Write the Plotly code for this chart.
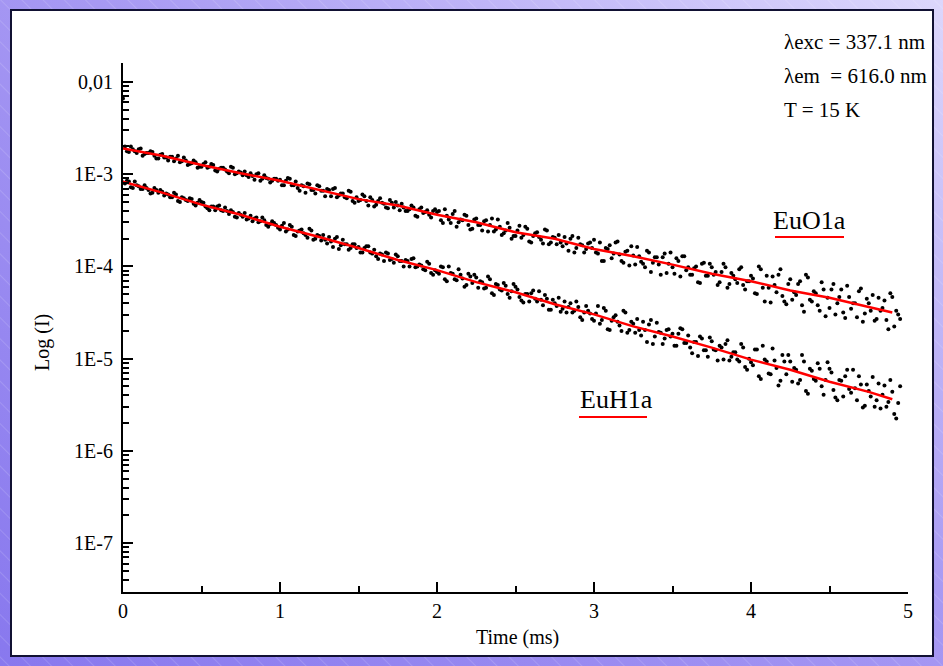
import base64
import plotly.graph_objects as go

# ---------------- data (log10 of intensity) ----------------
# two interleaved sampling grids of the decay curves
time_a_ms = [round(0.025 * i, 4) for i in range(199)]
time_b_ms = [round(0.0125 + 0.025 * j, 4) for j in range(198)]

euo1a_log_a = [
    -2.18, -2.75, -2.70, -2.75, -2.73, -2.80, -2.77, -2.75, -2.80, -2.83,
    -2.78, -2.82, -2.81, -2.86, -2.80, -2.86, -2.85, -2.89, -2.85, -2.93,
    -2.92, -2.87, -2.92, -2.90, -2.97, -2.93, -2.95, -2.99, -2.93, -2.99,
    -2.98, -2.97, -3.03, -3.02, -3.00, -3.07, -3.01, -3.05, -3.07, -3.05,
    -3.06, -3.12, -3.04, -3.12, -3.08, -3.18, -3.13, -3.10, -3.17, -3.21,
    -3.13, -3.18, -3.16, -3.24, -3.15, -3.23, -3.21, -3.26, -3.19, -3.31,
    -3.29, -3.22, -3.29, -3.25, -3.35, -3.29, -3.31, -3.36, -3.28, -3.36,
    -3.34, -3.32, -3.40, -3.38, -3.36, -3.46, -3.36, -3.41, -3.44, -3.40,
    -3.41, -3.50, -3.38, -3.49, -3.43, -3.57, -3.49, -3.44, -3.55, -3.59,
    -3.48, -3.55, -3.51, -3.62, -3.48, -3.60, -3.57, -3.64, -3.53, -3.70,
    -3.67, -3.56, -3.66, -3.59, -3.74, -3.64, -3.68, -3.75, -3.61, -3.74,
    -3.69, -3.66, -3.78, -3.75, -3.70, -3.85, -3.69, -3.77, -3.81, -3.74,
    -3.71, -3.86, -3.94, -3.80, -3.77, -3.86, -3.73, -3.94, -3.84, -3.99,
    -3.88, -3.79, -3.95, -4.01, -3.85, -3.96, -3.90, -4.09, -3.86, -3.97,
    -4.01, -3.91, -4.11, -3.89, -4.01, -4.09, -4.00, -4.18, -3.96, -4.10,
    -4.01, -4.06, -4.17, -3.97, -4.23, -4.07, -4.14, -4.03, -4.20, -4.16,
    -4.10, -4.29, -4.00, -4.23, -4.10, -4.39, -4.20, -4.09, -4.32, -4.41,
    -4.14, -4.28, -4.19, -4.42, -4.09, -4.36, -4.27, -4.42, -4.17, -4.54,
    -4.45, -4.19, -4.40, -4.25, -4.56, -4.33, -4.40, -4.55, -4.24, -4.51,
    -4.40, -4.31, -4.57, -4.48, -4.37, -4.68, -4.33, -4.48, -4.57,
]

euo1a_log_b = [
    -2.70, -2.76, -2.73, -2.77, -2.72, -2.78, -2.77, -2.76, -2.83, -2.79,
    -2.82, -2.85, -2.81, -2.83, -2.87, -2.82, -2.90, -2.88, -2.87, -2.92,
    -2.89, -2.93, -2.89, -2.96, -2.94, -2.93, -2.97, -2.92, -3.00, -2.97,
    -3.01, -3.01, -2.99, -3.06, -2.99, -3.05, -3.04, -3.09, -3.05, -3.07,
    -3.12, -3.07, -3.05, -3.12, -3.15, -3.12, -3.20, -3.11, -3.17, -3.12,
    -3.18, -3.24, -3.17, -3.16, -3.25, -3.21, -3.25, -3.18, -3.29, -3.25,
    -3.28, -3.24, -3.34, -3.28, -3.33, -3.26, -3.32, -3.37, -3.31, -3.30,
    -3.39, -3.36, -3.40, -3.34, -3.45, -3.38, -3.42, -3.39, -3.47, -3.38,
    -3.40, -3.53, -3.45, -3.53, -3.40, -3.52, -3.50, -3.45, -3.60, -3.49,
    -3.55, -3.61, -3.50, -3.55, -3.62, -3.49, -3.66, -3.61, -3.58, -3.67,
    -3.61, -3.69, -3.57, -3.73, -3.67, -3.63, -3.71, -3.60, -3.76, -3.68,
    -3.76, -3.74, -3.68, -3.83, -3.67, -3.80, -3.76, -3.85, -3.75, -3.80,
    -3.85, -3.74, -3.94, -3.81, -3.91, -3.74, -3.87, -3.96, -3.83, -3.78,
    -3.98, -3.89, -3.97, -3.83, -4.06, -3.90, -3.98, -3.90, -4.07, -3.85,
    -4.08, -3.94, -3.89, -4.04, -4.09, -4.02, -4.17, -3.97, -4.10, -3.97,
    -4.09, -4.20, -4.06, -4.01, -4.19, -4.10, -4.18, -4.01, -4.25, -4.16,
    -4.13, -4.30, -4.03, -4.38, -4.23, -4.11, -4.28, -4.03, -4.38, -4.19,
    -4.36, -4.31, -4.16, -4.49, -4.12, -4.38, -4.29, -4.48, -4.25, -4.34,
    -4.25, -4.52, -4.33, -4.50, -4.21, -4.46, -4.40, -4.27, -4.60, -4.35,
    -4.48, -4.59, -4.34, -4.45, -4.58, -4.29, -4.65, -4.52,
]

euh1a_log_a = [
    -3.09, -3.07, -3.14, -3.08, -3.13, -3.16, -3.15, -3.21, -3.15, -3.20,
    -3.19, -3.21, -3.25, -3.20, -3.29, -3.25, -3.28, -3.26, -3.32, -3.31,
    -3.30, -3.35, -3.39, -3.35, -3.35, -3.39, -3.36, -3.43, -3.41, -3.47,
    -3.44, -3.42, -3.48, -3.51, -3.47, -3.51, -3.50, -3.57, -3.51, -3.55,
    -3.60, -3.53, -3.60, -3.57, -3.67, -3.61, -3.64, -3.69, -3.61, -3.70,
    -3.67, -3.66, -3.75, -3.73, -3.70, -3.81, -3.71, -3.76, -3.80, -3.76,
    -3.79, -3.85, -3.78, -3.85, -3.82, -3.92, -3.87, -3.85, -3.93, -3.96,
    -3.89, -3.94, -3.93, -4.00, -3.91, -4.00, -3.99, -4.04, -3.97, -4.09,
    -4.06, -4.00, -4.14, -4.00, -4.08, -4.15, -4.09, -4.22, -4.08, -4.18,
    -4.12, -4.16, -4.24, -4.11, -4.29, -4.19, -4.25, -4.18, -4.30, -4.27,
    -4.22, -4.33, -4.39, -4.30, -4.29, -4.35, -4.27, -4.42, -4.35, -4.47,
    -4.40, -4.34, -4.46, -4.50, -4.40, -4.48, -4.44, -4.58, -4.43, -4.51,
    -4.59, -4.43, -4.58, -4.48, -4.69, -4.55, -4.60, -4.70, -4.50, -4.69,
    -4.62, -4.57, -4.75, -4.69, -4.63, -4.84, -4.61, -4.72, -4.78, -4.68,
    -4.73, -4.86, -4.67, -4.83, -4.75, -4.94, -4.82, -4.76, -4.91, -4.98,
    -4.81, -4.91, -4.86, -5.01, -4.80, -4.98, -4.93, -5.03, -4.88, -5.12,
    -5.04, -4.90, -5.19, -4.86, -5.03, -5.17, -5.02, -5.29, -4.96, -5.17,
    -5.03, -5.10, -5.27, -4.96, -5.35, -5.11, -5.22, -5.05, -5.30, -5.23,
    -5.11, -5.34, -5.45, -5.24, -5.19, -5.33, -5.12, -5.45, -5.28, -5.51,
    -5.35, -5.20, -5.45, -5.54, -5.29, -5.47, -5.36, -5.65, -5.30,
]

euh1a_log_b = [
    -3.10, -3.08, -3.15, -3.12, -3.16, -3.12, -3.17, -3.20, -3.17, -3.17,
    -3.23, -3.22, -3.25, -3.22, -3.30, -3.26, -3.29, -3.27, -3.34, -3.28,
    -3.31, -3.37, -3.35, -3.39, -3.34, -3.40, -3.40, -3.39, -3.46, -3.42,
    -3.46, -3.49, -3.45, -3.48, -3.52, -3.47, -3.55, -3.54, -3.53, -3.58,
    -3.56, -3.62, -3.55, -3.66, -3.62, -3.60, -3.66, -3.59, -3.71, -3.66,
    -3.72, -3.71, -3.68, -3.79, -3.68, -3.77, -3.76, -3.82, -3.76, -3.80,
    -3.85, -3.80, -3.78, -3.86, -3.89, -3.86, -3.94, -3.86, -3.92, -3.87,
    -3.94, -4.00, -3.94, -3.92, -4.01, -3.98, -4.03, -3.95, -4.07, -4.04,
    -4.08, -4.01, -4.16, -4.07, -4.14, -4.03, -4.13, -4.20, -4.11, -4.09,
    -4.23, -4.17, -4.23, -4.14, -4.31, -4.20, -4.26, -4.21, -4.34, -4.19,
    -4.25, -4.37, -4.30, -4.38, -4.26, -4.38, -4.36, -4.31, -4.47, -4.36,
    -4.43, -4.49, -4.38, -4.44, -4.50, -4.38, -4.55, -4.50, -4.48, -4.57,
    -4.51, -4.62, -4.45, -4.68, -4.59, -4.53, -4.64, -4.48, -4.72, -4.60,
    -4.72, -4.69, -4.60, -4.82, -4.58, -4.76, -4.71, -4.84, -4.69, -4.76,
    -4.86, -4.73, -4.68, -4.83, -4.88, -4.82, -4.97, -4.78, -4.91, -4.77,
    -4.90, -5.02, -4.88, -4.84, -5.02, -4.93, -5.01, -4.84, -5.09, -5.00,
    -5.07, -4.90, -5.22, -5.01, -5.16, -4.89, -5.10, -5.24, -5.03, -4.96,
    -5.25, -5.12, -5.23, -5.03, -5.38, -5.13, -5.24, -5.11, -5.39, -5.04,
    -5.15, -5.42, -5.23, -5.41, -5.12, -5.37, -5.32, -5.19, -5.53, -5.28,
    -5.41, -5.52, -5.27, -5.39, -5.52, -5.23, -5.60, -5.48,
]

fit_time_ms = [0, 0.25, 0.5, 0.75, 1.0, 1.25, 1.5, 1.75, 2.0, 2.25, 2.5,
               2.75, 3.0, 3.25, 3.5, 3.75, 4.0, 4.25, 4.5, 4.75, 4.9]
euo1a_fit_log = [-2.72, -2.80, -2.90, -2.99, -3.07, -3.17, -3.27, -3.34, -3.44, -3.52, -3.63,
                 -3.70, -3.81, -3.89, -3.98, -4.08, -4.16, -4.26, -4.34, -4.44, -4.50]
euh1a_fit_log = [-3.08, -3.20, -3.33, -3.44, -3.57, -3.68, -3.80, -3.93, -4.04, -4.17, -4.28,
                 -4.41, -4.52, -4.65, -4.76, -4.88, -5.01, -5.12, -5.25, -5.36, -5.44]

y_tick_vals = [1e-7, 1e-6, 1e-5, 1e-4, 1e-3, 1e-2]
y_tick_text = ["1E-7", "1E-6", "1E-5", "1E-4", "1E-3", "0,01"]
x_tick_vals = [0, 1, 2, 3, 4, 5]
x_minor_vals = [0.5, 1.5, 2.5, 3.5, 4.5]
y_minor_vals = [m * 10.0 ** e for e in range(-8, -1) for m in range(2, 10)]

info_lines = ["λexc = 337.1 nm", "λem  = 616.0 nm", "T = 15 K"]
series_names = ["EuO1a", "EuH1a"]

# ---------------- layout geometry ----------------
W, H = 943, 666
L, R, T, B = 123, 908, 63, 592
FONT = "Liberation Serif, Times New Roman, serif"


def px(xp):
    return (xp - L) / (R - L)


def py(yp):
    return (B - yp) / (B - T)


svg = (
    '<svg xmlns="http://www.w3.org/2000/svg" width="943" height="666">'
    '<defs><linearGradient id="g" x1="0" y1="1" x2="1" y2="0">'
    '<stop offset="0" stop-color="#8878ee"/><stop offset="0.55" stop-color="#a799f3"/>'
    '<stop offset="1" stop-color="#dcd7fc"/></linearGradient>'
    '<pattern id="h" width="15" height="15" patternUnits="userSpaceOnUse" patternTransform="rotate(-45)">'
    '<line x1="0" y1="0" x2="0" y2="15" stroke="#ffffff" stroke-opacity="0.28" stroke-width="1"/>'
    '</pattern></defs>'
    '<rect width="943" height="666" fill="url(#g)"/>'
    '<rect width="943" height="666" fill="url(#h)"/></svg>'
)
svg_uri = "data:image/svg+xml;base64," + base64.b64encode(svg.encode()).decode()

fig = go.Figure()

dot = dict(color="black", size=4)
for tx, ty in [(time_a_ms, euo1a_log_a), (time_b_ms, euo1a_log_b),
               (time_a_ms, euh1a_log_a), (time_b_ms, euh1a_log_b)]:
    fig.add_trace(go.Scatter(x=tx, y=[10 ** v for v in ty], mode="markers",
                             marker=dot, cliponaxis=False, showlegend=False))
for fy in [euo1a_fit_log, euh1a_fit_log]:
    fig.add_trace(go.Scatter(x=fit_time_ms, y=[10 ** v for v in fy], mode="lines",
                             line=dict(color="#ff0000", width=2.5), showlegend=False))

axis_common = dict(
    showline=True, linecolor="black", linewidth=2, mirror=False,
    ticks="inside", ticklen=10, tickwidth=2, tickcolor="black",
    showgrid=False, zeroline=False,
    tickfont=dict(family=FONT, size=20, color="black"),
)

fig.update_xaxes(range=[0, 5], tickmode="array", tickvals=x_tick_vals,
                 minor=dict(ticks="inside", ticklen=6, tickwidth=2, tickcolor="black",
                            tickmode="array", tickvals=x_minor_vals, showgrid=False),
                 **axis_common)
fig.update_yaxes(type="log", range=[-7.53, -1.794], tickmode="array",
                 tickvals=y_tick_vals, ticktext=y_tick_text, ticklabelstandoff=4,
                 minor=dict(ticks="inside", ticklen=6, tickwidth=2, tickcolor="black",
                            tickmode="array", tickvals=y_minor_vals, showgrid=False),
                 **axis_common)

annotations = []
for k, txt in enumerate(info_lines):
    annotations.append(dict(
        text=txt, xref="paper", yref="paper", x=px(782), y=py(42 + 34 * k),
        xanchor="left", yanchor="middle", showarrow=False,
        font=dict(family=FONT, size=21, color="black")))
label_pos = [(771, 221), (578, 399)]
for name, (lx, ly) in zip(series_names, label_pos):
    annotations.append(dict(
        text=name, xref="paper", yref="paper", x=px(lx), y=py(ly),
        xanchor="left", yanchor="middle", showarrow=False,
        font=dict(family=FONT, size=26, color="black")))
annotations.append(dict(
    text="Log (I)", xref="paper", yref="paper", x=px(42), y=py(343),
    xanchor="center", yanchor="middle", textangle=-90, showarrow=False,
    font=dict(family=FONT, size=20, color="black")))
annotations.append(dict(
    text="Time (ms)", xref="paper", yref="paper", x=px(517), y=py(637),
    xanchor="center", yanchor="middle", showarrow=False,
    font=dict(family=FONT, size=20, color="black")))

shapes = [
    dict(type="rect", xref="paper", yref="paper", x0=px(11), x1=px(933), y0=py(656), y1=py(10),
         fillcolor="white", line=dict(color="#111133", width=2), layer="below"),
    dict(type="line", xref="paper", yref="paper", x0=px(775), x1=px(844), y0=py(237), y1=py(237),
         line=dict(color="#ff0000", width=2)),
    dict(type="line", xref="paper", yref="paper", x0=px(579), x1=px(647), y0=py(417), y1=py(417),
         line=dict(color="#ff0000", width=2)),
]

fig.update_layout(
    width=W, height=H,
    margin=dict(l=L, r=W - R, t=T, b=H - B, pad=0),
    paper_bgcolor="#a89af3", plot_bgcolor="white",
    font=dict(family=FONT, color="black"),
    annotations=annotations, shapes=shapes,
    images=[dict(source=svg_uri, xref="paper", yref="paper", x=px(0), y=py(0),
                 sizex=W / (R - L), sizey=H / (B - T), xanchor="left", yanchor="top",
                 sizing="stretch", layer="below")],
    showlegend=False,
)

fig.write_html("out.html", config={"displayModeBar": False},
               post_script="document.body.style.margin='0';document.body.style.overflow='hidden';")
